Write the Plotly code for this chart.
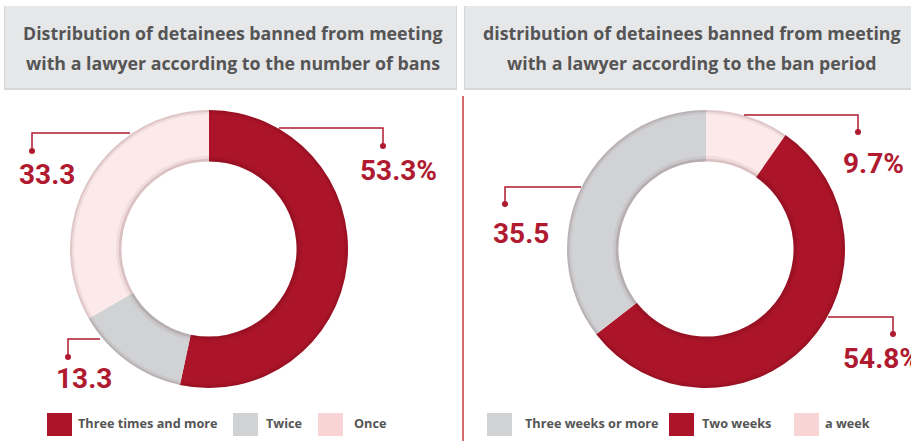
import plotly.graph_objects as go

W, H = 911, 441

# ---------------- data ----------------
title_left = ["Distribution of detainees banned from meeting",
              "with a lawyer according to the number of bans"]
title_right = ["distribution of detainees banned from meeting",
               "with a lawyer according to the ban period"]

labels_left = ["Three times and more", "Twice", "Once"]
values_left = [53.3, 13.3, 33.3]
suffix_left = ["%", "", ""]

labels_right = ["Three weeks or more", "Two weeks", "a week"]
values_right = [35.5, 54.8, 9.7]
suffix_right = ["", "%", "%"]

# ---------------- styles ----------------
RED = "#ac1529"
GREY = "#d1d2d4"
PINK_RING = "#fce9e9"
PINK_LEG = "#f9d4d4"
colors_left = [RED, GREY, PINK_RING]
colors_right = [GREY, RED, PINK_RING]
legcolors_left = [RED, GREY, PINK_LEG]
legcolors_right = [GREY, RED, PINK_LEG]
LABEL_COLOR = "#b01a30"
TEXT_GREY = "#555555"
FONT_NUM = "Roboto"
FONT_TXT = "Open Sans"

# layout positions (pixels)
R = 139
HOLE = 0.63
center_left = (209, 249)
center_right = (706, 249)

# label placement: (text_x, text_y, line_start_x, line_y, elbow_x, dot_y)
place_left = [(358, 170, 279, 128, 383, 146),
              (54, 378, 100, 339, 68, 357),
              (17, 175, 130, 133, 32, 151)]
place_right = [(491, 233, 581, 187, 505, 204),
               (841, 358, 828, 317, 893, 334),
               (841, 163, 744, 115, 858, 132)]

legend_left = [(47, 76), (233, 264), (318, 352)]
legend_right = [(487, 523), (669, 700), (794, 823)]


def px(x):
    return x / W


def py(y):
    return 1 - y / H


def dom(c, r):
    cx, cy = c
    return dict(x=[px(cx - r), px(cx + r)], y=[py(cy + r), py(cy - r)])


fig = go.Figure()


def add_donut(c, labels, values, colors):
    fig.add_trace(go.Pie(
        labels=labels, values=values, hole=HOLE, sort=False,
        direction="clockwise", rotation=0,
        marker=dict(colors=colors, line=dict(width=0)),
        textinfo="none", domain=dom(c, R), showlegend=False,
        hoverinfo="label+percent"))
    # subtle shading at outer and inner edges
    for rr, hh, a in [(R, 0.985, 0.10), (R, 0.97, 0.05),
                      (R * (HOLE + 0.02), HOLE / (HOLE + 0.02), 0.12),
                      (R * (HOLE + 0.04), HOLE / (HOLE + 0.04), 0.05)]:
        fig.add_trace(go.Pie(
            values=[1], hole=hh, sort=False, textinfo="none",
            marker=dict(colors=[f"rgba(60,0,10,{a})"], line=dict(width=0)),
            domain=dom(c, rr), showlegend=False, hoverinfo="skip"))


add_donut(center_left, labels_left, values_left, colors_left)
# right donut runs clockwise from 12 o'clock in reverse legend order
add_donut(center_right, labels_right[::-1], values_right[::-1], colors_right[::-1])

shapes = []
annotations = []

# title boxes
for x0, x1 in [(4, 456), (464, 911)]:
    shapes.append(dict(type="rect", xref="paper", yref="paper",
                       x0=px(x0), x1=px(x1 + 1), y0=py(90), y1=py(6),
                       fillcolor="#d6d7d9", line=dict(width=0), layer="below"))
    shapes.append(dict(type="rect", xref="paper", yref="paper",
                       x0=px(x0 + 1), x1=px(x1), y0=py(88), y1=py(6),
                       fillcolor="#e6e7e9", line=dict(width=0), layer="below"))

for lines, cx in [(title_left, 233), (title_right, 692)]:
    for line, cy in zip(lines, [33, 63]):
        annotations.append(dict(text=line, xref="paper", yref="paper",
                                x=px(cx), y=py(cy), xanchor="center", yanchor="middle",
                                showarrow=False, align="center",
                                font=dict(family=FONT_TXT, size=17.8, color=TEXT_GREY, weight=700)))

# divider
shapes.append(dict(type="line", xref="paper", yref="paper",
                   x0=px(463), x1=px(463), y0=py(96), y1=py(441),
                   line=dict(color="#d46b6b", width=2)))

# value labels with leaders
for vals, sufs, places in [(values_left, suffix_left, place_left),
                           (values_right, suffix_right, place_right)]:
    for v, s, (tx, ty, lx, ly, ex, dy) in zip(vals, sufs, places):
        shapes.append(dict(type="path", xref="paper", yref="paper",
                           path=f"M {px(lx)},{py(ly)} L {px(ex)},{py(ly)} L {px(ex)},{py(dy)}",
                           line=dict(color=LABEL_COLOR, width=1.5)))
        shapes.append(dict(type="circle", xref="paper", yref="paper",
                           x0=px(ex - 3), x1=px(ex + 3), y0=py(dy + 3), y1=py(dy - 3),
                           fillcolor=LABEL_COLOR, line=dict(width=0)))
        annotations.append(dict(text=f"{v}{s}", xref="paper", yref="paper",
                                x=px(tx), y=py(ty), xanchor="left", yanchor="middle",
                                showarrow=False,
                                font=dict(family=FONT_NUM, size=28, color=LABEL_COLOR, weight=700)))

# custom legends
for labs, cols, pos in [(labels_left, legcolors_left, legend_left),
                        (labels_right, legcolors_right, legend_right)]:
    for lab, col, (sx, tx) in zip(labs, cols, pos):
        shapes.append(dict(type="rect", xref="paper", yref="paper",
                           x0=px(sx), x1=px(sx + 25), y0=py(436), y1=py(413),
                           fillcolor=col, line=dict(width=0)))
        annotations.append(dict(text=lab, xref="paper", yref="paper",
                                x=px(tx), y=py(423), xanchor="left", yanchor="middle",
                                showarrow=False,
                                font=dict(family=FONT_TXT, size=12.7, color=TEXT_GREY, weight=700)))

fig.update_layout(width=W, height=H, margin=dict(l=0, r=0, t=0, b=0),
                  paper_bgcolor="white", plot_bgcolor="white",
                  shapes=shapes, annotations=annotations, showlegend=False)

fig.write_html("out.html", config={"displayModeBar": False},
               post_script="document.body.style.margin='0px';")
